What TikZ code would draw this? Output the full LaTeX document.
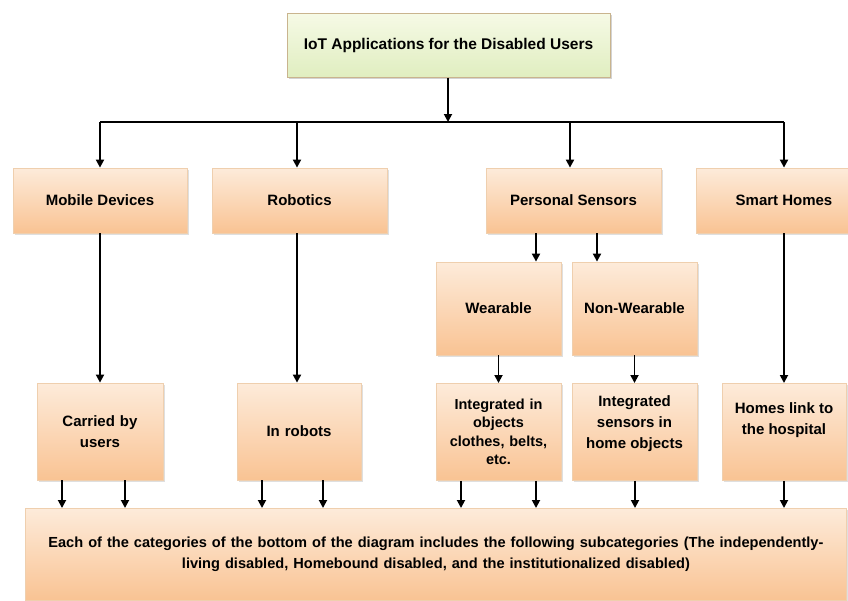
\documentclass[tikz,border=0pt]{standalone}
\usepackage{fontspec}
\setmainfont{Liberation Sans}
\usetikzlibrary{arrows.meta,shadows}
\definecolor{boxtop}{HTML}{FDEBDA}
\definecolor{boxbot}{HTML}{F9C393}
\definecolor{boxline}{HTML}{EFCFAE}
\definecolor{gtop}{HTML}{F6FAE6}
\definecolor{gbot}{HTML}{E0EEC0}
\definecolor{gline}{HTML}{C9B48E}
\newcommand{\topbox}[2]{\parbox[c][93pt][t]{120pt}{\centering\vspace*{#1}#2}}
\tikzset{
  x=1pt, y=-1pt,
  obox/.style={draw=boxline, line width=0.8pt, top color=boxtop, bottom color=boxbot,
    inner sep=2pt, align=center, font=\bfseries\fontsize{15}{21}\selectfont,
    drop shadow={shadow xshift=1.5pt, shadow yshift=-1.5pt, opacity=0.25}},
  gbox/.style={draw=gline, line width=1pt, top color=gtop, bottom color=gbot,
    inner sep=2pt, align=center, font=\bfseries\fontsize{15.5}{19}\selectfont,
    drop shadow={shadow xshift=1.5pt, shadow yshift=-1.5pt, opacity=0.35}},
  arr/.style={line width=1.8pt, -{Triangle[length=8pt,width=8pt]}},
  ln/.style={line width=1.8pt}
}
\begin{document}
\begin{tikzpicture}
\useasboundingbox (0,0) rectangle (848,600);
\clip (0,0) rectangle (848,600);
% top
\node[gbox, minimum width=323pt, minimum height=64pt] (top) at (448.5,45) {IoT Applications for the Disabled Users};
% level 2
\node[obox, minimum width=174pt, minimum height=65pt] (md) at (100,200.5) {Mobile Devices};
\node[obox, minimum width=175pt, minimum height=65pt] (rob) at (299.5,200.5) {Robotics};
\node[obox, minimum width=175pt, minimum height=65pt] (ps) at (573.5,200.5) {Personal Sensors};
\node[obox, minimum width=175pt, minimum height=65pt] (sh) at (784,200.5) {Smart Homes};
% level 3
\node[obox, minimum width=125pt, minimum height=93pt] (wea) at (498.5,308.5) {Wearable};
\node[obox, minimum width=125pt, minimum height=93pt] (nwea) at (634.5,308.5) {Non-Wearable};
% level 4
\node[obox, minimum width=126pt, minimum height=97pt, text width=120pt] (cu) at (100,431.5) {Carried by\\users};
\node[obox, minimum width=124pt, minimum height=97pt, text width=120pt] (ir) at (299,431.5) {In robots};
\node[obox, minimum width=125pt, minimum height=97pt, text width=120pt, anchor=north,
  font=\bfseries\fontsize{14.5}{18.3}\selectfont] (io) at (498.5,383) {Integrated in\\objects\\clothes, belts,\\etc.};
\node[obox, minimum width=125pt, minimum height=97pt, anchor=north] (is) at (634.5,383)
  {\topbox{10pt}{Integrated\\sensors in\\home objects}};
\node[obox, minimum width=124pt, minimum height=97pt, anchor=north] (hl) at (784,383)
  {\topbox{17pt}{Homes link to\\the hospital}};
% bottom
\node[obox, minimum width=821pt, minimum height=92pt, text width=815pt, anchor=north west, inner xsep=2pt] (bot) at (25,508)
 {\fontsize{14.6}{18}\selectfont Each of the categories of the bottom of the diagram includes the following subcategories (The independently-\\living disabled, Homebound disabled, and the institutionalized disabled)};
% connectors
\coordinate (bus) at (448,122);
\coordinate (bl) at (100,122);
\coordinate (br) at (784,122);
\coordinate (xr) at (297,0);
\coordinate (xp) at (570,0);
\coordinate (xa) at (536,0);
\coordinate (xb) at (597,0);
\draw[arr] (top.south -| bus) -- (bus);
\draw[ln] (bl) -- (br);
\draw[arr] (bl) -- (md.north);
\draw[arr] (bus -| xr) -- (rob.north -| xr);
\draw[arr] (bus -| xp) -- (ps.north -| xp);
\draw[arr] (br) -- (sh.north);
\draw[arr] (ps.south -| xa) -- (wea.north -| xa);
\draw[arr] (ps.south -| xb) -- (nwea.north -| xb);
\draw[arr] (md.south) -- (cu.north);
\draw[arr] (rob.south -| xr) -- (ir.north -| xr);
\draw[arr] (wea.south) -- (io.north);
\draw[arr] (nwea.south) -- (is.north);
\draw[arr] (sh.south) -- (hl.north);
% to bottom
\foreach \n/\s/\xx in {c1/cu/62, c2/cu/125, c3/ir/262, c4/ir/323, c5/io/461, c6/io/536, c7/is/635, c8/hl/784}{
  \coordinate (\n) at (\xx,0);
  \draw[arr] (\s.south -| \n) -- (bot.north -| \n);
}
\end{tikzpicture}
\end{document}
